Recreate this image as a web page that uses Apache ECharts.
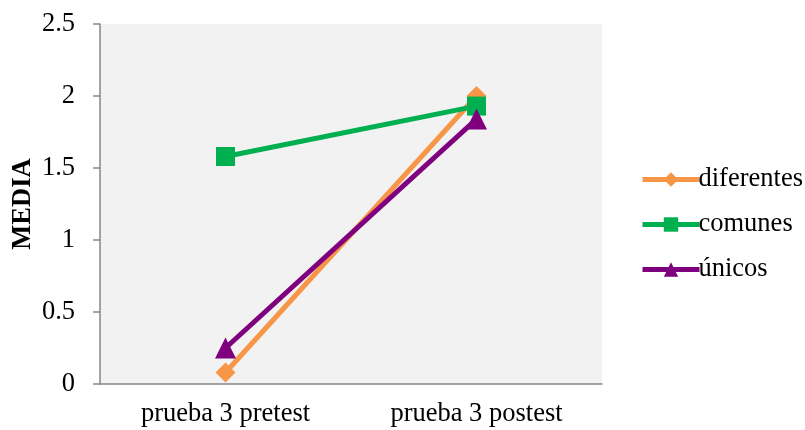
<!DOCTYPE html>
<html>
<head>
<meta charset="utf-8">
<script src="https://cdn.jsdelivr.net/npm/echarts@6/dist/echarts.min.js"></script>
<style>
  html, body { margin: 0; padding: 0; background: #ffffff; }
  #chart { width: 805px; height: 430px; }
</style>
</head>
<body>
<div id="chart"></div>
<script>
// Categories and mean values per group
const categories = ['prueba 3 pretest', 'prueba 3 postest'];
const diferentes = [0.08, 2.0];
const comunes = [1.58, 1.93];
const unicos = [0.25, 1.84];
const yTicks = [0, 0.5, 1, 1.5, 2, 2.5];

const serif = '"Liberation Serif", "Times New Roman", serif';
const fs = 26.5;

function lineSeries(name, data, color, symbol, size) {
  return {
    name: name,
    type: 'line',
    data: data,
    symbol: symbol,
    symbolSize: size,
    lineStyle: { color: color, width: 5 },
    itemStyle: { color: color },
    z: 2
  };
}

const chart = echarts.init(document.getElementById('chart'), null, { renderer: 'canvas' });
chart.setOption({
  animation: false,
  backgroundColor: '#ffffff',
  textStyle: { fontFamily: serif },
  grid: {
    left: 100, top: 24, right: 203, bottom: 46,
    outerBoundsMode: 'none',
    containLabel: false,
    show: true, backgroundColor: '#f2f2f2', borderWidth: 0
  },
  legend: {
    orient: 'vertical',
    left: 640,
    top: 166,
    padding: 0,
    itemWidth: 57,
    itemHeight: 18,
    itemGap: 18,
    lineStyle: { width: 5 },
    textStyle: { fontFamily: serif, fontSize: fs, color: '#000', padding: [0, 0, 0, -6] },
    data: ['diferentes', 'comunes', 'únicos']
  },
  xAxis: {
    type: 'category',
    data: categories,
    boundaryGap: true,
    axisLine: { lineStyle: { color: '#868686', width: 1.5 } },
    axisTick: { show: false },
    axisLabel: { fontFamily: serif, fontSize: fs, color: '#000', margin: 17 }
  },
  yAxis: {
    type: 'value',
    min: yTicks[0],
    max: yTicks[yTicks.length - 1],
    interval: 0.5,
    name: 'MEDIA',
    nameLocation: 'middle',
    nameGap: 63,
    nameMoveOverlap: false,
    nameTextStyle: { fontFamily: serif, fontSize: fs, fontWeight: 'bold', color: '#000' },
    axisLine: { show: true, lineStyle: { color: '#868686', width: 1.5 } },
    axisTick: { show: true, length: 7, lineStyle: { color: '#868686', width: 1.5 } },
    splitLine: { show: false },
    axisLabel: {
      fontFamily: serif, fontSize: fs, color: '#000', margin: 25,
      formatter: function (v) { return String(v); }
    }
  },
  series: [
    lineSeries('diferentes', diferentes, '#f79646', 'diamond', 20),
    lineSeries('comunes', comunes, '#00b050', 'rect', 19),
    lineSeries('únicos', unicos, '#7f007f', 'triangle', 21)
  ]
});
</script>
</body>
</html>
